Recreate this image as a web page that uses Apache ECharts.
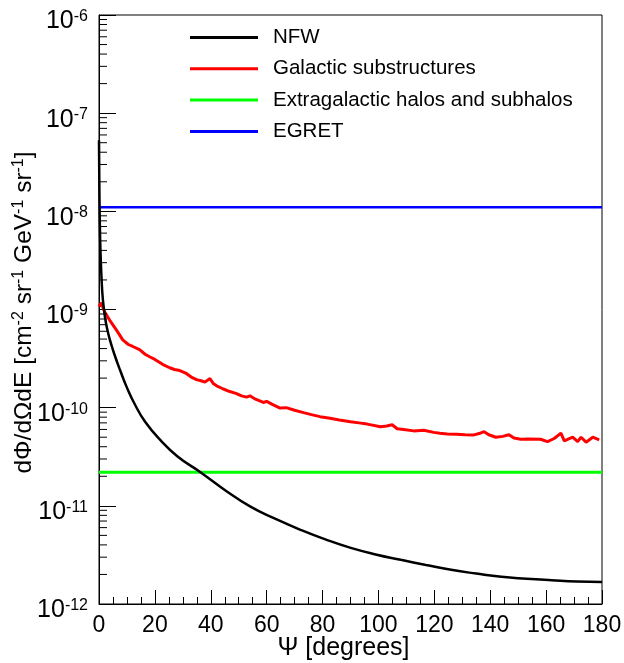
<!DOCTYPE html>
<html><head><meta charset="utf-8">
<script src="https://cdn.jsdelivr.net/npm/echarts@6/dist/echarts.min.js"></script>
<style>html,body{margin:0;padding:0;background:#fff}#c{width:624px;height:663px}</style>
</head><body><div id="c"></div>
<script>
const FONT = '"Liberation Sans", Arial, Helvetica, sans-serif';
const seriesNames = ['NFW', 'Galactic substructures', 'Extragalactic halos and subhalos', 'EGRET'];
const nfwPsi  = [0, 0.1, 0.25, 0.5, 0.9, 1.4, 2.2, 3.0, 3.9, 5.5, 7.5, 10, 12.9, 16.5, 21.9, 28, 36.3, 45, 54.2, 63, 72.1, 81, 90.1, 99, 108, 117, 126, 135, 144, 153, 162, 171, 180];
const nfwFlux = [5.3e-8, 2.2e-8, 9e-9, 4.2e-9, 2.1e-9, 1.25e-9, 8.2e-10, 6.2e-10, 4.9e-10, 3.5e-10, 2.43e-10, 1.6e-10, 1.07e-10, 7.2e-11, 4.7e-11, 3.2e-11, 2.2e-11, 1.45e-11, 9.8e-12, 7.4e-12, 5.7e-12, 4.55e-12, 3.73e-12, 3.2e-12, 2.82e-12, 2.5e-12, 2.23e-12, 2.04e-12, 1.89e-12, 1.81e-12, 1.75e-12, 1.7e-12, 1.68e-12];
const subPsi  = [0, 0.8, 2.0, 3.8, 6.2, 8.5, 10.5, 12.1, 14.5, 16.5, 18.1, 20, 22.9, 25.3, 27, 28.9, 31, 33, 34.9, 36.5, 37.9, 39.7, 41, 42.1, 44.5, 46.8, 49, 51, 52.8, 54, 56, 58.8, 60, 62, 64.8, 67, 70, 73.2, 76, 79.1, 82.7, 86, 90, 93, 96, 100.7, 103, 104.9, 106.7, 109, 112.6, 116.2, 119.8, 122, 124.6, 128, 131, 134.2, 136, 137.8, 139.5, 142, 144.5, 146.7, 148.5, 150.9, 154, 158, 160.5, 162.9, 165.3, 166.5, 169.5, 171.3, 172.5, 174.3, 176.7, 179];
const subFlux = [1.07e-9, 1.17e-9, 0.95e-9, 7.8e-10, 6.2e-10, 4.9e-10, 4.4e-10, 4.2e-10, 3.9e-10, 3.5e-10, 3.3e-10, 3.1e-10, 2.75e-10, 2.55e-10, 2.45e-10, 2.39e-10, 2.25e-10, 2.05e-10, 1.93e-10, 1.88e-10, 1.82e-10, 1.98e-10, 1.75e-10, 1.67e-10, 1.55e-10, 1.46e-10, 1.4e-10, 1.32e-10, 1.28e-10, 1.32e-10, 1.22e-10, 1.13e-10, 1.16e-10, 1.08e-10, 0.99e-10, 1.0e-10, 9.4e-11, 8.9e-11, 8.5e-11, 8.1e-11, 7.8e-11, 7.5e-11, 7.2e-11, 7.0e-11, 6.8e-11, 6.4e-11, 6.5e-11, 6.7e-11, 6.1e-11, 6.0e-11, 5.8e-11, 5.9e-11, 5.6e-11, 5.5e-11, 5.4e-11, 5.35e-11, 5.3e-11, 5.28e-11, 5.45e-11, 5.7e-11, 5.3e-11, 5.0e-11, 5.1e-11, 5.3e-11, 4.9e-11, 4.77e-11, 4.8e-11, 4.77e-11, 4.5e-11, 4.85e-11, 5.5e-11, 4.6e-11, 5.0e-11, 4.5e-11, 5.0e-11, 4.45e-11, 5.0e-11, 4.7e-11];
const extraPsi = [0, 180];
const extraFlux = [2.2e-11, 2.2e-11];
const egretPsi = [0, 180];
const egretFlux = [1.1e-8, 1.1e-8];
const xRange = [0, 180];
const yRange = [1e-12, 1e-6];

const zip = (a, b) => a.map((v, i) => [v, b[i]]);
const minorVals = [];
for (let e = -12; e < -6; e++) for (let m = 2; m <= 9; m++) minorVals.push(m * Math.pow(10, e));

const chart = echarts.init(document.getElementById('c'), null, {renderer: 'canvas'});
chart.setOption({
  backgroundColor: '#fff',
  animation: false,
  textStyle: {fontFamily: FONT},
  grid: {left: 99, right: 22, top: 15, bottom: 59, containLabel: false, outerBoundsMode: 'none',
         show: true, borderColor: '#000', borderWidth: 1, backgroundColor: 'transparent'},
  legend: {
    data: seriesNames, orient: 'vertical', left: 190, top: 27, padding: 0,
    icon: 'rect', itemWidth: 68, itemHeight: 3, itemGap: 10.3,
    textStyle: {fontSize: 20.5, fontFamily: FONT, color: '#000', lineHeight: 20, padding: [0, 0, 0, 10]}
  },
  xAxis: {
    type: 'value', min: xRange[0], max: xRange[1], interval: 20,
    name: 'Ψ [degrees]', nameLocation: 'middle', nameGap: 30, nameMoveOverlap: false,
    nameTextStyle: {fontSize: 25, fontFamily: FONT, color: '#000', lineHeight: 28, padding: [0, 14, 0, 0]},
    axisLine: {show: true, lineStyle: {color: '#000', width: 1}},
    axisTick: {show: true, inside: true, length: 14, lineStyle: {color: '#000'}},
    minorTick: {show: true, splitNumber: 4, length: 7, lineStyle: {color: '#000'}},
    splitLine: {show: false}, minorSplitLine: {show: false},
    axisLabel: {fontSize: 23, fontFamily: FONT, color: '#000', margin: 10}
  },
  yAxis: {
    type: 'log', logBase: 10, min: yRange[0], max: yRange[1],
    name: '{t|dΦ/dΩdE [cm}{s|-2}{t| sr}{s|-1}{t| GeV}{s|-1}{t| sr}{s|-1}{t|]}',
    nameLocation: 'middle', nameGap: 62, nameRotate: 90, nameMoveOverlap: false,
    nameTextStyle: {
      padding: [0, 6, 0, 0],
      rich: {
        t: {fontSize: 24.5, fontFamily: FONT, color: '#000', lineHeight: 26},
        s: {fontSize: 16, fontFamily: FONT, color: '#000', verticalAlign: 'top', lineHeight: 16}
      }
    },
    axisLine: {show: true, lineStyle: {color: '#000', width: 1}},
    axisTick: {show: true, inside: true, length: 17, lineStyle: {color: '#000'}},
    minorTick: {show: false},
    splitLine: {show: false},
    axisLabel: {
      margin: 11,
      padding: [13, 0, 0, 0],
      formatter: v => '{b|10}{s|' + Math.round(Math.log10(v)) + '}',
      rich: {
        b: {fontSize: 25, fontFamily: FONT, color: '#000', lineHeight: 26},
        s: {fontSize: 16, fontFamily: FONT, color: '#000', verticalAlign: 'top', lineHeight: 16}
      }
    }
  },
  series: [
    {name: seriesNames[0], type: 'line', data: zip(nfwPsi, nfwFlux), smooth: 0.5, symbol: 'none', showSymbol: false, lineStyle: {color: '#000', width: 2.5}, itemStyle: {color: '#000'}, z: 5},
    {name: seriesNames[1], type: 'line', data: zip(subPsi, subFlux), symbol: 'none', showSymbol: false, lineStyle: {color: '#ff0000', width: 3}, itemStyle: {color: '#ff0000'}, z: 4},
    {name: seriesNames[2], type: 'line', data: zip(extraPsi, extraFlux), symbol: 'none', showSymbol: false, lineStyle: {color: '#00ff00', width: 3}, itemStyle: {color: '#00ff00'}, z: 3},
    {name: seriesNames[3], type: 'line', data: zip(egretPsi, egretFlux), symbol: 'none', showSymbol: false, lineStyle: {color: '#0000ff', width: 2.5}, itemStyle: {color: '#0000ff'}, z: 3},
    {name: 'minorTicks', type: 'custom', silent: true, z: 6, clip: false,
     data: minorVals.map(v => [0, v]),
     renderItem: (params, api) => {
       const p = api.coord([api.value(0), api.value(1)]);
       return {type: 'line', shape: {x1: p[0], y1: p[1], x2: p[0] + 8, y2: p[1]}, style: {stroke: '#000', lineWidth: 1}};
     }}
  ]
});
</script>
</body></html>
